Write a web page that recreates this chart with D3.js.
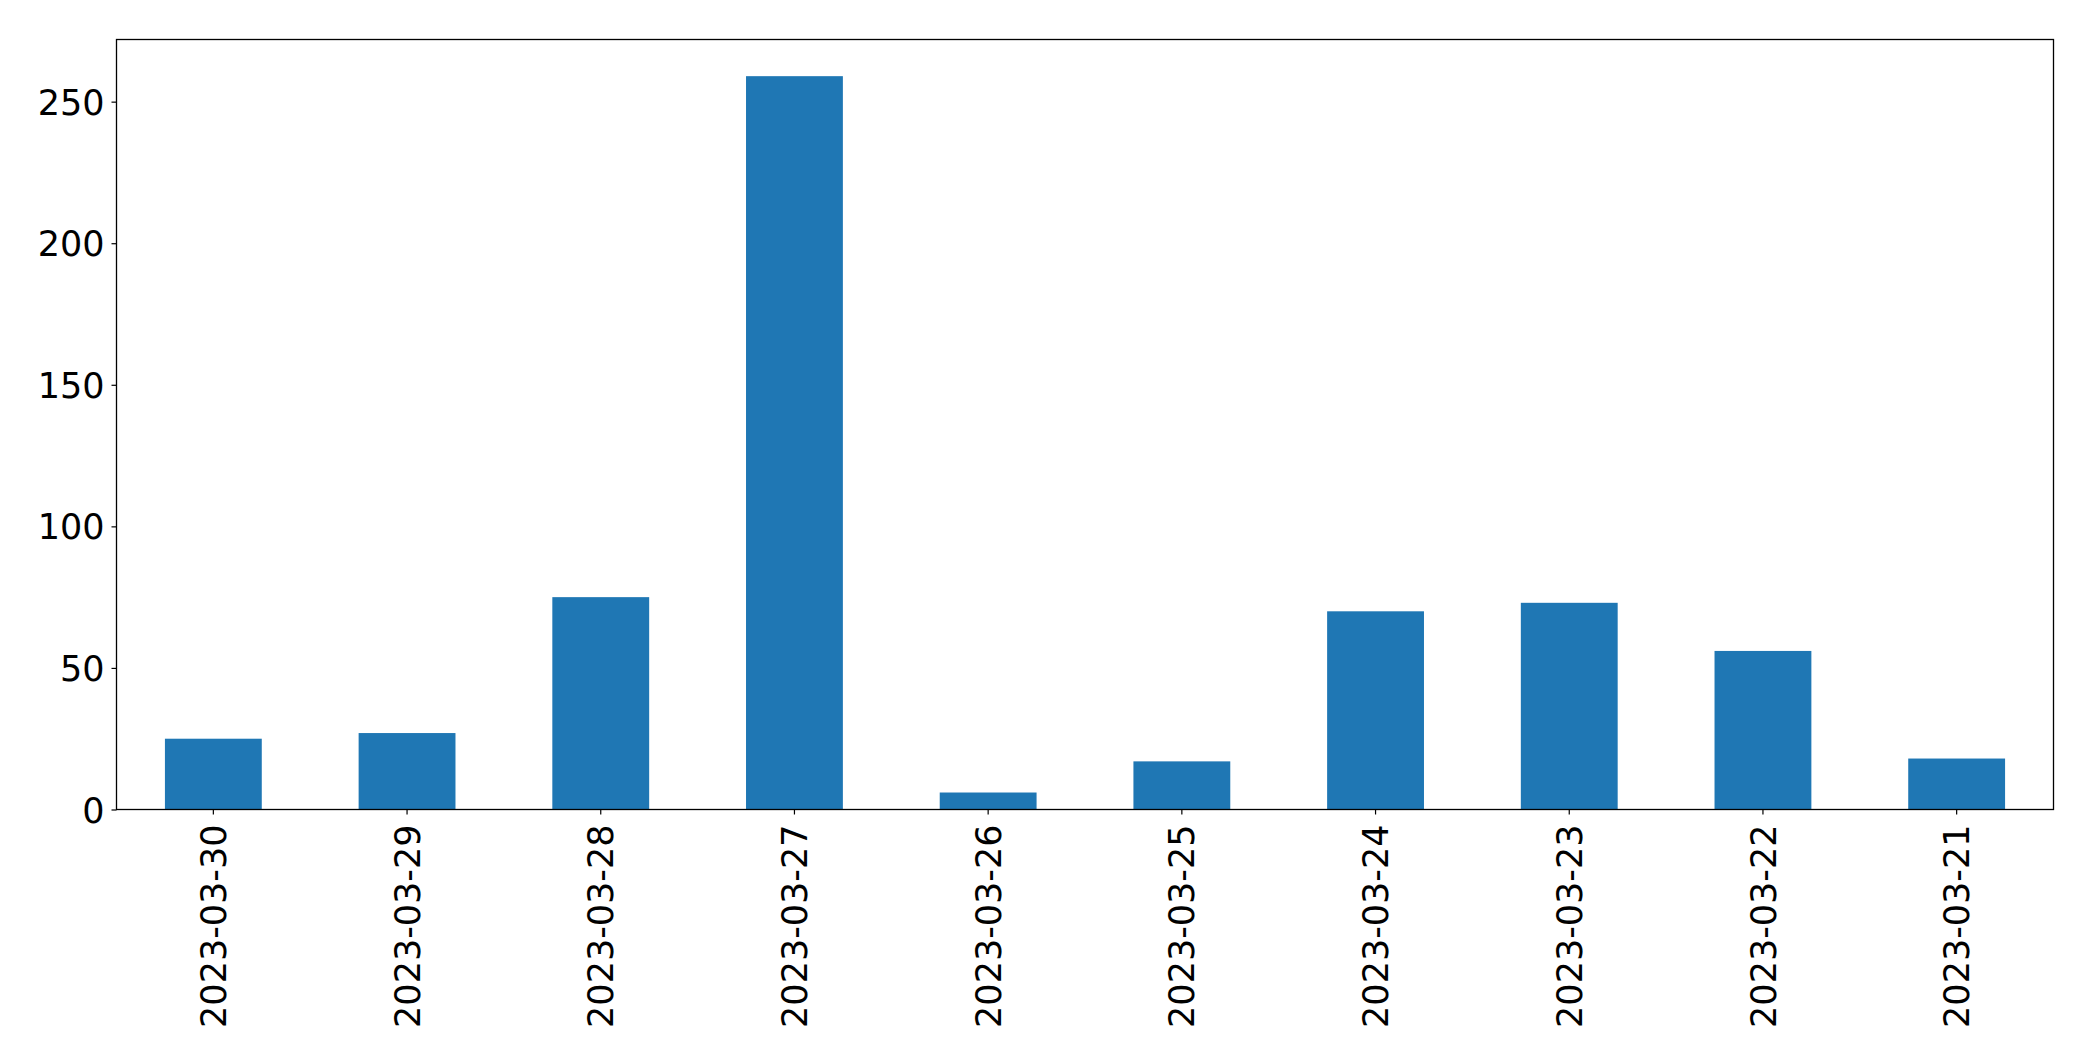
<!DOCTYPE html>
<html>
<head>
<meta charset="utf-8">
<script src="https://cdn.jsdelivr.net/npm/d3@7"></script>
<style>
  html, body { margin: 0; padding: 0; background: #fff; }
  svg { display: block; }
  text { font-family: "DejaVu Sans", sans-serif; fill: #000; }
</style>
</head>
<body>
<svg id="chart" width="2093" height="1061"></svg>
<script>
const categories = ["2023-03-30","2023-03-29","2023-03-28","2023-03-27","2023-03-26","2023-03-25","2023-03-24","2023-03-23","2023-03-22","2023-03-21"];
const values = [25, 27, 75, 259, 6, 17, 70, 73, 56, 18];
const yTicks = [0, 50, 100, 150, 200, 250];

const W = 2093, H = 1061;
const margin = {left: 116.5, right: W - 2053.5, top: 39.5, bottom: H - 809.5};
const svg = d3.select("#chart");
const iw = W - margin.left - margin.right;
const ih = H - margin.top - margin.bottom;
const g = svg.append("g").attr("transform", `translate(${margin.left},${margin.top})`);

const x = d3.scaleBand().domain(categories).range([0, iw]).paddingInner(0.5).paddingOuter(0.25);
const y = d3.scaleLinear().domain([0, d3.max(values) * 1.05]).range([ih, 0]);

g.selectAll("rect.bar").data(values).join("rect")
  .attr("class", "bar")
  .attr("x", (d, i) => x(categories[i]))
  .attr("width", x.bandwidth())
  .attr("y", d => y(d))
  .attr("height", d => ih - y(d))
  .attr("fill", "#1f77b4");

const fs = 35;
const yAxis = g.append("g").call(d3.axisLeft(y).tickValues(yTicks).tickSize(5).tickPadding(7).tickFormat(d3.format("d")));
yAxis.select(".domain").remove();
yAxis.selectAll("text").style("font-size", fs + "px").attr("dy", "0.36em");
yAxis.selectAll("line").attr("stroke", "#000").attr("stroke-width", 1.2);

const xAxis = g.append("g").attr("transform", `translate(0,${ih})`)
  .call(d3.axisBottom(x).tickSize(5).tickPadding(0));
xAxis.select(".domain").remove();
xAxis.selectAll("line").attr("stroke", "#000").attr("stroke-width", 1.2);
xAxis.selectAll("text")
  .style("font-size", fs + "px")
  .attr("text-anchor", "end")
  .attr("transform", "translate(0,15) rotate(-90)")
  .attr("x", 0).attr("y", 0).attr("dy", "0.36em");

g.append("rect").attr("x", 0).attr("y", 0).attr("width", iw).attr("height", ih)
  .attr("fill", "none").attr("stroke", "#000").attr("stroke-width", 1.3);
</script>
</body>
</html>
